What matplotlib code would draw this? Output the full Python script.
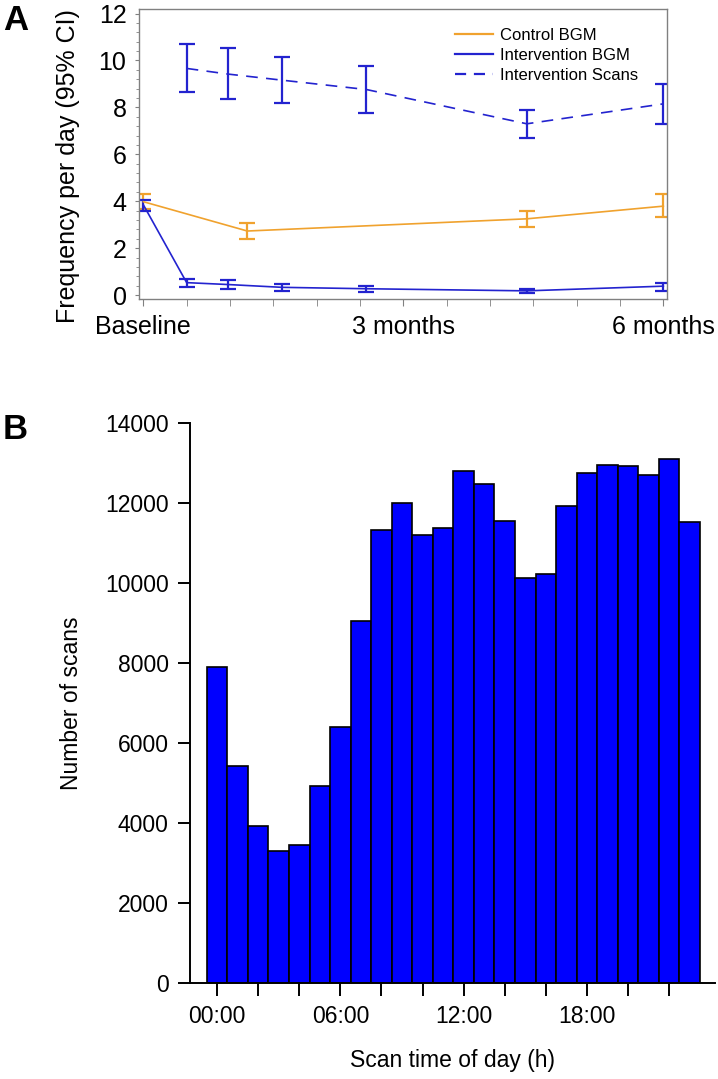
import matplotlib.pyplot as plt
from matplotlib.lines import Line2D
import numpy as np

plt.rcParams['font.family'] = ['Liberation Sans', 'DejaVu Sans']

# Panel A data (x in weeks since baseline)
ctrl_wk = [0, 4.8, 17.7, 24]
ctrl_mean = [3.98, 2.73, 3.25, 3.79]
ctrl_lo = [3.65, 2.39, 2.91, 3.31]
ctrl_hi = [4.30, 3.07, 3.59, 4.30]

ibgm_wk = [0, 2, 3.9, 6.4, 10.3, 17.7, 24]
ibgm_mean = [3.85, 0.53, 0.45, 0.33, 0.27, 0.18, 0.38]
ibgm_lo = [3.59, 0.34, 0.27, 0.16, 0.13, 0.07, 0.18]
ibgm_hi = [4.04, 0.70, 0.64, 0.47, 0.38, 0.28, 0.53]

scan_wk = [2, 3.9, 6.4, 10.3, 17.7, 24]
scan_mean = [9.66, 9.42, 9.16, 8.76, 7.30, 8.15]
scan_lo = [8.66, 8.35, 8.20, 7.78, 6.70, 7.29]
scan_hi = [10.68, 10.54, 10.16, 9.77, 7.90, 9.00]

a_tick_pos = [0, 12, 24]
a_tick_labels = ["Baseline", "3 months", "6 months"]

# Panel B data
hours = list(range(24))
scans = [7890, 5430, 3920, 3310, 3450, 4930, 6410, 9060, 11330, 12010, 11200, 11370,
         12790, 12480, 11560, 10130, 10220, 11930, 12760, 12940, 12920, 12690, 13110, 11520]
b_tick_labels = ["00:00", "", "", "06:00", "", "", "12:00", "", "", "18:00", "", ""]

orange = "#F0A22E"
blue = "#2323CF"
dash = (0, (7, 5))

W, H = 718, 1079
fig = plt.figure(figsize=(W / 100, H / 100), dpi=100)


def box(l, t, r, b):
    return [l / W, 1 - b / H, (r - l) / W, (b - t) / H]


# ---------- Panel A ----------
ax = fig.add_axes(box(139, 9.3, 667, 299.3))


def draw(x, m, lo, hi, color, ls):
    m = np.array(m)
    err = [m - np.array(lo), np.array(hi) - m]
    ax.errorbar(x, m, yerr=err, color=color, ecolor=color, elinewidth=1.6,
                capsize=6, capthick=1.6, linewidth=1.2, linestyle=ls)


draw(ctrl_wk, ctrl_mean, ctrl_lo, ctrl_hi, orange, "-")
draw(ibgm_wk, ibgm_mean, ibgm_lo, ibgm_hi, blue, "-")
draw(scan_wk, scan_mean, scan_lo, scan_hi, blue, dash)

ax.set_xlim(-0.2, 24.17)
ax.set_ylim(-0.18, 12.18)
ax.set_xticks(a_tick_pos)
ax.set_xticklabels(a_tick_labels, fontsize=18)
ax.set_xticks(np.arange(0, 25, 2), minor=True)
ax.set_yticks(np.arange(0, 13, 2))
ax.set_yticks(np.arange(0, 12.1, 0.4), minor=True)
ax.tick_params(axis="y", which="major", labelsize=18, length=3, color="gray", pad=6)
ax.tick_params(axis="y", which="minor", length=2, color="gray")
ax.tick_params(axis="x", which="both", length=5, color="gray", pad=6)
for s in ax.spines.values():
    s.set_color("gray")
    s.set_linewidth(1.0)

fig.text(68 / W, 1 - 166 / H, "Frequency per day (95% CI)", rotation=90,
         ha="center", va="center", fontsize=18)

handles = [Line2D([], [], color=orange, lw=1.6),
           Line2D([], [], color=blue, lw=1.6),
           Line2D([], [], color=blue, lw=1.6, linestyle=(0, (5, 3.5)))]
labels = ["Control BGM", "Intervention BGM", "Intervention Scans"]
ax.legend(handles, labels, loc="upper left",
          bbox_to_anchor=((455 - 139) / 528, (299.3 - 28) / 290),
          frameon=False, fontsize=12, handlelength=2.3, handletextpad=0.4,
          borderpad=0, borderaxespad=0, labelspacing=0.3)

fig.text(16 / W, 1 - 21 / H, "A", fontsize=25, fontweight="bold", ha="center", va="center")

# ---------- Panel B ----------
bx = fig.add_axes(box(189.5, 423, 715, 983))
bx.bar(hours, scans, width=1.0, color="#0000FF", edgecolor="black", linewidth=1.2)
bx.set_xlim(-1.34, 24.23)
bx.set_ylim(0, 14000)
bx.set_xticks(np.arange(0, 24, 2))
bx.set_xticklabels(b_tick_labels)
bx.set_yticks(np.arange(0, 14001, 2000))
bx.spines["top"].set_visible(False)
bx.spines["right"].set_visible(False)
for s in ("left", "bottom"):
    bx.spines[s].set_linewidth(1.4)
bx.tick_params(axis="x", length=9, width=1.4, labelsize=16.5, pad=7)
bx.tick_params(axis="y", length=9, width=1.4, labelsize=16.5, pad=6)

fig.text(71 / W, 1 - 703 / H, "Number of scans", rotation=90,
         ha="center", va="center", fontsize=16.5)
fig.text(452 / W, 1 - 1060 / H, "Scan time of day (h)", ha="center", va="center",
         fontsize=16.5)
fig.text(15 / W, 1 - 429 / H, "B", fontsize=25, fontweight="bold", ha="center", va="center")

fig.savefig("out.png", dpi=100)
